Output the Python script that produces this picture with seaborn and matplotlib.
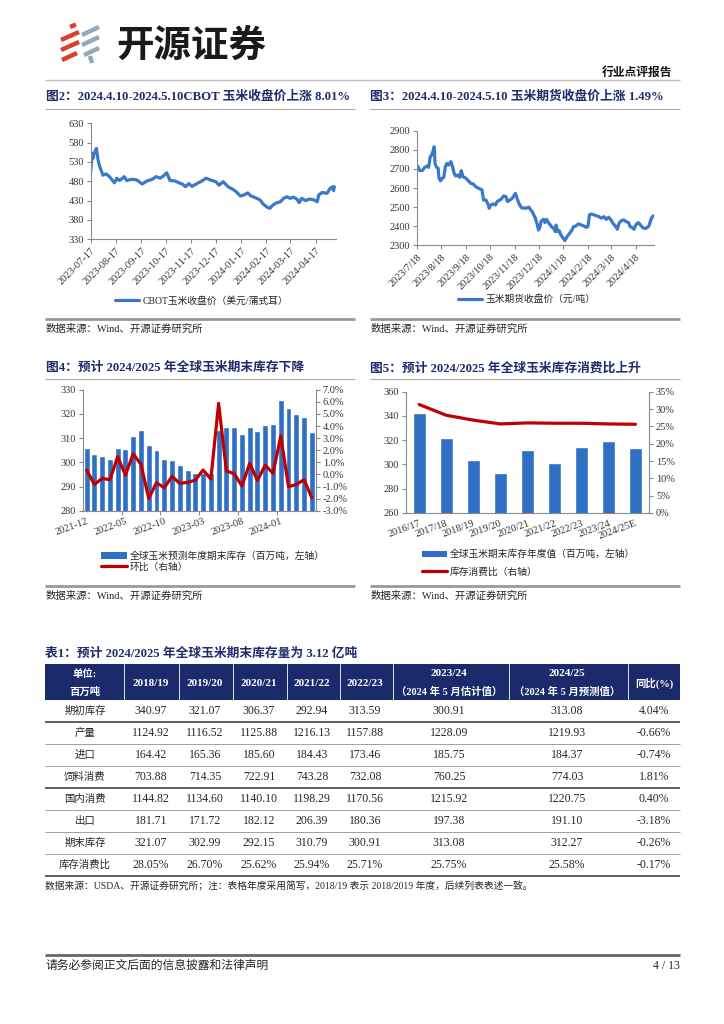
import matplotlib
matplotlib.use("Agg")
import matplotlib.pyplot as plt
from matplotlib.lines import Line2D
from matplotlib.patches import Patch, Rectangle
import seaborn as sns
import numpy as np
import pandas as pd

# ---------------- data ----------------
cbot_dates = ['2023-07-17', '2023-07-19', '2023-07-20', '2023-07-21', '2023-07-24', '2023-07-26',
              '2023-07-28', '2023-08-01', '2023-08-05', '2023-08-09', '2023-08-15', '2023-08-18',
              '2023-08-21', '2023-08-24', '2023-08-27', '2023-08-30', '2023-09-05', '2023-09-11',
              '2023-09-18', '2023-09-24', '2023-09-30', '2023-10-05', '2023-10-10', '2023-10-14',
              '2023-10-18', '2023-10-22', '2023-10-28', '2023-11-02', '2023-11-06', '2023-11-10',
              '2023-11-14', '2023-11-18', '2023-11-24', '2023-12-01', '2023-12-05', '2023-12-11',
              '2023-12-17', '2023-12-21', '2023-12-26', '2024-01-01', '2024-01-07', '2024-01-11',
              '2024-01-16', '2024-01-21', '2024-01-25', '2024-01-29', '2024-02-02', '2024-02-09',
              '2024-02-13', '2024-02-17', '2024-02-21', '2024-02-25', '2024-03-01', '2024-03-05',
              '2024-03-09', '2024-03-13', '2024-03-17', '2024-03-21', '2024-03-25', '2024-03-28',
              '2024-03-31', '2024-04-05', '2024-04-09', '2024-04-15', '2024-04-19', '2024-04-21',
              '2024-04-25', '2024-05-01', '2024-05-05', '2024-05-08', '2024-05-09', '2024-05-10']
cbot_values = [505, 552, 540, 552, 565, 535,
               518, 496, 499, 492, 476, 488,
               482, 486, 492, 482, 485, 484,
               473, 481, 485, 492, 488, 494,
               502, 482, 481, 476, 473, 466,
               474, 467, 474, 482, 488, 483,
               479, 470, 479, 466, 459, 453,
               442, 445, 450, 442, 439, 432,
               421, 414, 410, 419, 425, 427,
               436, 440, 436, 439, 434, 425,
               436, 430, 434, 432, 427, 445,
               451, 449, 462, 466, 456, 466]
cbot_ticks = ['2023-07-17', '2023-08-17', '2023-09-17', '2023-10-17', '2023-11-17',
              '2023-12-17', '2024-01-17', '2024-02-17', '2024-03-17', '2024-04-17']

dce_dates = ['2023-07-18', '2023-07-20', '2023-07-22', '2023-07-25', '2023-07-28', '2023-07-31',
             '2023-08-02', '2023-08-04', '2023-08-06', '2023-08-09', '2023-08-10', '2023-08-12',
             '2023-08-14', '2023-08-15', '2023-08-17', '2023-08-19', '2023-08-21', '2023-08-23',
             '2023-08-25', '2023-08-27', '2023-08-30', '2023-09-01', '2023-09-03', '2023-09-05',
             '2023-09-08', '2023-09-10', '2023-09-12', '2023-09-14', '2023-09-17', '2023-09-20',
             '2023-09-24', '2023-09-27', '2023-09-30', '2023-10-04', '2023-10-08', '2023-10-10',
             '2023-10-13', '2023-10-16', '2023-10-17', '2023-10-19', '2023-10-22', '2023-10-25',
             '2023-10-27', '2023-11-01', '2023-11-04', '2023-11-07', '2023-11-09', '2023-11-12',
             '2023-11-15', '2023-11-19', '2023-11-21', '2023-11-23', '2023-11-25', '2023-11-27',
             '2023-12-02', '2023-12-06', '2023-12-08', '2023-12-10', '2023-12-12', '2023-12-14',
             '2023-12-16', '2023-12-18', '2023-12-20', '2023-12-21', '2023-12-24', '2023-12-26',
             '2023-12-28', '2023-12-31', '2024-01-02', '2024-01-03', '2024-01-06', '2024-01-08',
             '2024-01-09', '2024-01-11', '2024-01-13', '2024-01-15', '2024-01-18', '2024-01-20',
             '2024-01-23', '2024-01-26', '2024-01-29', '2024-01-31', '2024-02-03', '2024-02-06',
             '2024-02-10', '2024-02-13', '2024-02-16', '2024-02-18', '2024-02-20', '2024-02-22',
             '2024-02-26', '2024-02-29', '2024-03-03', '2024-03-06', '2024-03-09', '2024-03-12',
             '2024-03-15', '2024-03-18', '2024-03-21', '2024-03-24', '2024-03-26', '2024-03-28',
             '2024-03-31', '2024-04-03', '2024-04-06', '2024-04-09', '2024-04-11', '2024-04-13',
             '2024-04-16', '2024-04-18', '2024-04-21', '2024-04-23', '2024-04-25', '2024-04-28',
             '2024-05-01', '2024-05-04', '2024-05-05', '2024-05-07', '2024-05-09', '2024-05-10']
dce_values = [2720, 2708, 2691, 2691, 2708, 2715,
              2708, 2764, 2773, 2816, 2729, 2708,
              2703, 2651, 2638, 2651, 2656, 2712,
              2729, 2720, 2738, 2712, 2677, 2663,
              2668, 2656, 2691, 2659, 2654, 2642,
              2624, 2621, 2607, 2598, 2590, 2537,
              2537, 2511, 2494, 2511, 2517, 2511,
              2529, 2541, 2558, 2555, 2529, 2537,
              2546, 2572, 2546, 2524, 2506, 2496,
              2494, 2500, 2486, 2477, 2459, 2442,
              2415, 2380, 2398, 2424, 2436, 2419,
              2436, 2415, 2406, 2398, 2389, 2372,
              2406, 2372, 2377, 2354, 2337, 2325,
              2346, 2363, 2380, 2398, 2401, 2412,
              2406, 2401, 2394, 2398, 2459, 2464,
              2459, 2454, 2450, 2442, 2450, 2436,
              2447, 2433, 2412, 2398, 2384, 2415,
              2429, 2433, 2424, 2419, 2398, 2394,
              2384, 2406, 2419, 2412, 2401, 2389,
              2389, 2398, 2406, 2433, 2450, 2454]
dce_ticks = ['2023-07-18', '2023-08-18', '2023-09-18', '2023-10-18', '2023-11-18',
             '2023-12-18', '2024-01-18', '2024-02-18', '2024-03-18', '2024-04-18']

stock_months = ['2021-12', '2022-01', '2022-02', '2022-03', '2022-04', '2022-05', '2022-06',
                '2022-07', '2022-08', '2022-09', '2022-10', '2022-11', '2022-12', '2023-01',
                '2023-02', '2023-03', '2023-04', '2023-05', '2023-06', '2023-07', '2023-08',
                '2023-09', '2023-10', '2023-11', '2023-12', '2024-01', '2024-02', '2024-03',
                '2024-04', '2024-05']
stock_values = [306.0, 303.5, 302.7, 301.3, 306.0, 305.5, 311.0, 313.5, 307.0, 305.0,
                301.5, 301.0, 298.8, 296.8, 295.7, 295.7, 295.6, 313.5, 314.5, 314.5,
                311.5, 314.5, 312.8, 315.4, 315.7, 325.6, 322.6, 320.1, 318.7, 312.6]
stock_mom = [0.36, -0.83, -0.33, -0.44, 1.46, -0.06, 1.70, 0.83, -1.98, -0.69,
             -1.10, -0.17, -0.74, -0.66, -0.47, 0.36, -0.39, 5.87, 0.28, 0.06,
             -0.96, 0.91, -0.50, 0.77, 0.08, 3.17, -1.02, -0.83, -0.44, -1.93]
stock_tick_labels = ['2021-12', '2022-05', '2022-10', '2023-03', '2023-08', '2024-01']

season_labels = ['2016/17', '2017/18', '2018/19', '2019/20', '2020/21', '2021/22',
                 '2022/23', '2023/24', '2024/25E']
season_stock = [342.4, 321.8, 303.6, 292.6, 311.6, 301.6, 314.0, 319.5, 313.2]
season_ratio = [31.3, 28.2, 26.8, 25.7, 26.0, 25.9, 25.9, 25.7, 25.6]

table_row_names = ['期初库存', '产量', '进口', '饲料消费', '国内消费', '出口', '期末库存', '库存消费比']
table_years = ['2018/19', '2019/20', '2020/21', '2021/22', '2022/23']
col_1819 = ['340.97', '1124.92', '164.42', '703.88', '1144.82', '181.71', '321.07', '28.05%']
col_1920 = ['321.07', '1116.52', '165.36', '714.35', '1134.60', '171.72', '302.99', '26.70%']
col_2021 = ['306.37', '1125.88', '185.60', '722.91', '1140.10', '182.12', '292.15', '25.62%']
col_2122 = ['292.94', '1216.13', '184.43', '743.28', '1198.29', '206.39', '310.79', '25.94%']
col_2223 = ['313.59', '1157.88', '173.46', '732.08', '1170.56', '180.36', '300.91', '25.71%']
col_2324 = ['300.91', '1228.09', '185.75', '760.25', '1215.92', '197.38', '313.08', '25.75%']
col_2425 = ['313.08', '1219.93', '184.37', '774.03', '1220.75', '191.10', '312.27', '25.58%']
col_yoy = ['4.04%', '-0.66%', '-0.74%', '1.81%', '0.40%', '-3.18%', '-0.26%', '-0.17%']

# ---------------- style ----------------
sns.set_theme(style="ticks")
plt.rcParams['font.family'] = ['Liberation Serif', 'Noto Sans CJK SC', 'DejaVu Sans']
plt.rcParams['axes.unicode_minus'] = False

W, H = 724, 1024
BLUE_LINE = '#3A78C9'
BLUE_BAR = '#2F6FC4'
RED = '#C00000'
NAVY = '#1F2C6C'
GREY = '#8a8a8a'
TXT = '#262626'
TITLE_FS = 9.2

fig = plt.figure(figsize=(W / 100, H / 100), dpi=100)
page = fig.add_axes([0, 0, 1, 1])
page.set_xlim(0, W)
page.set_ylim(H, 0)
page.axis('off')


def rect(l, t, r, b):
    return [l / W, 1 - b / H, (r - l) / W, (b - t) / H]


def T(x, y, s, size, **kw):
    kw.setdefault('va', 'center')
    kw.setdefault('color', TXT)
    page.text(x, y, s, fontsize=size, **kw)


def hline(y, x0, x1, color, lw):
    page.plot([x0, x1], [y, y], color=color, lw=lw, solid_capstyle='butt')


def style_axis(ax, right=False):
    ax.set_facecolor('none')
    ax.spines['top'].set_visible(False)
    ax.spines['right'].set_visible(right)
    for s in ['left', 'bottom', 'right']:
        ax.spines[s].set_color(GREY)
        ax.spines[s].set_linewidth(0.8)
    ax.tick_params(axis='both', which='both', direction='out', length=3, width=0.8,
                   color=GREY, labelsize=7.5, labelcolor='#333333', pad=2)
    ax.set_xlabel('')
    ax.set_ylabel('')


# ---------------- header / logo ----------------
logo_red = [((70, 27), (76, 24.5)), ((61, 40), (79, 32)), ((61, 50), (79, 42)), ((62, 60), (77, 53))]
logo_grey = [((82, 35), (99, 27)), ((82, 45), (99, 37)), ((84, 55), (99, 48)), ((90, 56), (92, 63))]
for (a, b) in logo_red:
    page.plot([a[0], b[0]], [a[1], b[1]], color='#D9402B', lw=3.2, solid_capstyle='butt')
for (a, b) in logo_grey:
    page.plot([a[0], b[0]], [a[1], b[1]], color='#93A8B8', lw=3.2, solid_capstyle='butt')
T(116, 45, '开源证券', 27, fontweight='bold', color='#1a1a1a', family=['Noto Sans CJK SC'])
T(672, 73, '行业点评报告', 8.5, ha='right', fontweight='bold', color='#111111')
hline(80, 45, 680, '#bdbdbd', 1.0)

# ---------------- chart titles & frames ----------------
T(46, 97, '图2：2024.4.10-2024.5.10CBOT 玉米收盘价上涨 8.01%', TITLE_FS, fontweight='bold', color=NAVY)
T(370, 97, '图3：2024.4.10-2024.5.10 玉米期货收盘价上涨 1.49%', TITLE_FS, fontweight='bold', color=NAVY)
hline(108.5, 45, 355, '#aaaaaa', 0.8)
hline(108.5, 370, 680, '#aaaaaa', 0.8)
hline(318.7, 45, 355, '#999999', 2.0)
hline(318.7, 370, 680, '#999999', 2.0)
T(46, 328.5, '数据来源：Wind、开源证券研究所', 7.5)
T(371, 328.5, '数据来源：Wind、开源证券研究所', 7.5)

T(46, 368, '图4：预计 2024/2025 年全球玉米期末库存下降', TITLE_FS, fontweight='bold', color=NAVY)
T(370, 368, '图5：预计 2024/2025 年全球玉米库存消费比上升', TITLE_FS, fontweight='bold', color=NAVY)
hline(378.5, 45, 355, '#aaaaaa', 0.8)
hline(378.5, 370, 680, '#aaaaaa', 0.8)
hline(586, 45, 355, '#999999', 2.0)
hline(586, 370, 680, '#999999', 2.0)
T(46, 596, '数据来源：Wind、开源证券研究所', 7.5)
T(371, 596, '数据来源：Wind、开源证券研究所', 7.5)

# ---------------- chart 2: CBOT ----------------
ax2 = fig.add_axes(rect(90.7, 123.3, 336, 239.3))
df2 = pd.DataFrame({'date': pd.to_datetime(cbot_dates), 'v': cbot_values})
sns.lineplot(data=df2, x='date', y='v', ax=ax2, color=BLUE_LINE, lw=2.3,
             label='CBOT玉米收盘价（美元/蒲式耳）')
ax2.set_ylim(330, 630)
ax2.set_yticks(np.arange(330, 631, 50))
ax2.set_xlim(pd.Timestamp('2023-07-17'), pd.Timestamp('2024-05-12'))
t2 = pd.to_datetime(cbot_ticks)
ax2.set_xticks(t2)
ax2.set_xticklabels([t.strftime('%Y-%m-%d') for t in t2], rotation=45, ha='right',
                    rotation_mode='anchor')
style_axis(ax2)
ax2.legend(loc='center left', bbox_to_anchor=(115 / W, 1 - 300.7 / H), bbox_transform=fig.transFigure,
           frameon=False, fontsize=7, handlelength=2.5, handletextpad=0.3, borderpad=0, borderaxespad=0)

# ---------------- chart 3: DCE ----------------
ax3 = fig.add_axes(rect(416.7, 130.7, 654, 245.3))
df3 = pd.DataFrame({'date': pd.to_datetime(dce_dates), 'v': dce_values})
sns.lineplot(data=df3, x='date', y='v', ax=ax3, color=BLUE_LINE, lw=2.3,
             label='玉米期货收盘价（元/吨）')
ax3.set_ylim(2300, 2900)
ax3.set_yticks(np.arange(2300, 2901, 100))
ax3.set_xlim(pd.Timestamp('2023-07-18'), pd.Timestamp('2024-05-11'))
t3 = pd.to_datetime(dce_ticks)
ax3.set_xticks(t3)
ax3.set_xticklabels([f'{t.year}/{t.month}/{t.day}' for t in t3], rotation=45, ha='right',
                    rotation_mode='anchor')
style_axis(ax3)
ax3.legend(loc='center left', bbox_to_anchor=(458 / W, 1 - 299.3 / H), bbox_transform=fig.transFigure,
           frameon=False, fontsize=7, handlelength=2.5, handletextpad=0.3, borderpad=0, borderaxespad=0)

# ---------------- chart 4: monthly stock ----------------
ax4 = fig.add_axes(rect(82.7, 389.7, 315.7, 510.7))
df4 = pd.DataFrame({'m': stock_months, 'v': stock_values})
sns.barplot(data=df4, x='m', y='v', ax=ax4, color=BLUE_BAR, saturation=1, width=0.76)
ax4.set_ylim(280, 330)
ax4.set_yticks(np.arange(280, 331, 10))
ax4b = ax4.twinx()
sns.lineplot(x=np.arange(len(stock_mom)), y=stock_mom, ax=ax4b, color=RED, lw=2.3)
ax4b.set_ylim(-3, 7)
ax4b.set_yticks(np.arange(-3, 7.01, 1))
ax4b.set_yticklabels([f'{v:.1f}%' for v in np.arange(-3, 7.01, 1)])
pos4 = [stock_months.index(m) for m in stock_tick_labels]
ax4.set_xticks(pos4)
ax4.set_xticklabels(stock_tick_labels, rotation=20, ha='right', rotation_mode='anchor')
ax4.set_xticks([p - 0.5 for p in pos4[1:]], minor=True)
ax4.set_xlim(-0.5, len(stock_months) - 0.5)
style_axis(ax4)
style_axis(ax4b, right=True)
ax4b.spines['left'].set_visible(False)
ax4b.spines['bottom'].set_visible(False)
ax4.tick_params(axis='x', which='major', length=0, pad=4)
ax4.tick_params(axis='x', which='minor', length=3)
h4 = [Patch(facecolor=BLUE_BAR, edgecolor='none'), Line2D([0], [0], color=RED, lw=2.3)]
ax4.legend(h4, ['全球玉米预测年度期末库存（百万吨，左轴）', '环比（右轴）'], loc='center left',
           bbox_to_anchor=(101 / W, 1 - 561.5 / H), bbox_transform=fig.transFigure, frameon=False,
           fontsize=7, handlelength=2.7, handletextpad=0.3, borderpad=0, borderaxespad=0,
           labelspacing=0.15)

# ---------------- chart 5: season stock & ratio ----------------
ax5 = fig.add_axes(rect(405.7, 391.7, 649, 513))
df5 = pd.DataFrame({'s': season_labels, 'v': season_stock})
sns.barplot(data=df5, x='s', y='v', ax=ax5, color=BLUE_BAR, saturation=1, width=0.49)
ax5.set_ylim(260, 360)
ax5.set_yticks(np.arange(260, 361, 20))
ax5b = ax5.twinx()
sns.lineplot(x=np.arange(len(season_ratio)), y=season_ratio, ax=ax5b, color=RED, lw=2.3)
ax5b.set_ylim(0, 35)
ax5b.set_yticks(np.arange(0, 36, 5))
ax5b.set_yticklabels([f'{v}%' for v in range(0, 36, 5)])
ax5.set_xticks(np.arange(len(season_labels)))
ax5.set_xticklabels(season_labels, rotation=20, ha='right', rotation_mode='anchor')
ax5.set_xlim(-0.5, len(season_labels) - 0.5)
style_axis(ax5)
style_axis(ax5b, right=True)
ax5b.spines['left'].set_visible(False)
ax5b.spines['bottom'].set_visible(False)
ax5.tick_params(axis='x', which='major', length=0, pad=4)
h5 = [Patch(facecolor=BLUE_BAR, edgecolor='none'), Line2D([0], [0], color=RED, lw=2.3)]
ax5.legend(h5, ['全球玉米期末库存年度值（百万吨，左轴）', '库存消费比（右轴）'], loc='center left',
           bbox_to_anchor=(422 / W, 1 - 563 / H), bbox_transform=fig.transFigure, frameon=False,
           fontsize=7, handlelength=2.6, handletextpad=0.3, borderpad=0, borderaxespad=0,
           labelspacing=0.75)

# ---------------- table ----------------
T(45, 654, '表1：预计 2024/2025 年全球玉米期末库存量为 3.12 亿吨', TITLE_FS, fontweight='bold', color=NAVY)
page.add_patch(Rectangle((45, 664), 635, 36, facecolor='#1B2A6B', edgecolor='none'))
for xs in [124, 179, 233, 287, 340, 393, 509, 628]:
    page.plot([xs, xs], [664, 700], color='white', lw=0.6)
col_x = [85, 151, 205, 259, 312, 365, 449, 567, 654]
WH = dict(color='white', fontweight='bold', ha='center')
T(col_x[0], 674, '单位:', 7.5, **WH)
T(col_x[0], 692, '百万吨', 7.5, **WH)
for x, yname in zip(col_x[1:6], table_years):
    T(x, 683, yname, 8, **WH)
T(col_x[6], 674, '2023/24', 8, **WH)
T(col_x[6], 692, '（2024 年 5 月估计值）', 7.5, **WH)
T(col_x[7], 674, '2024/25', 8, **WH)
T(col_x[7], 692, '（2024 年 5 月预测值）', 7.5, **WH)
T(col_x[8], 683, '同比(%)', 7.5, **WH)

columns = [col_1819, col_1920, col_2021, col_2122, col_2223, col_2324, col_2425, col_yoy]
row_h = 22
for i, name in enumerate(table_row_names):
    yc = 711 + i * row_h
    T(col_x[0], yc, name, 7.5, ha='center')
    for x, col in zip(col_x[1:], columns):
        T(x, yc, col[i], 8.5, ha='center')
    yl = 700 + (i + 1) * row_h
    dark = i in (0, 3, 7)
    hline(yl, 45, 680, '#333333' if dark else '#a0a0a0', 1.1 if dark else 0.7)
T(45, 886, '数据来源：USDA、开源证券研究所；注：表格年度采用简写，2018/19 表示 2018/2019 年度，后续列表表述一致。', 7)

# ---------------- footer ----------------
hline(955, 45, 680, '#666666', 2.0)
T(46, 966, '请务必参阅正文后面的信息披露和法律声明', 8.5)
T(680, 966, '4 / 13', 8.5, ha='right')

fig.savefig('out.png', dpi=100)
